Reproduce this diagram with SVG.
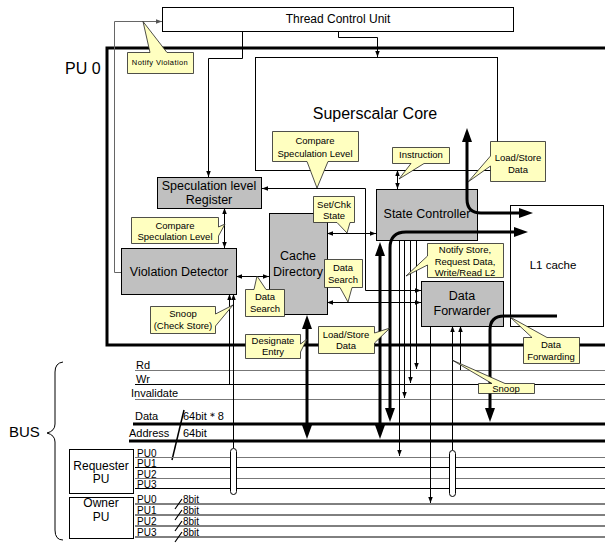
<svg xmlns="http://www.w3.org/2000/svg" width="605" height="543" viewBox="0 0 605 543">
<defs>
<marker id="a" viewBox="0 0 8 6" refX="8" refY="3" markerWidth="6" markerHeight="5" markerUnits="userSpaceOnUse" orient="auto-start-reverse"><path d="M0,0 L8,3 L0,6 z" fill="#000"/></marker>
<marker id="ag" viewBox="0 0 8 6" refX="8" refY="3" markerWidth="6" markerHeight="5" markerUnits="userSpaceOnUse" orient="auto-start-reverse"><path d="M0,0 L8,3 L0,6 z" fill="#555"/></marker>
<marker id="A" viewBox="0 0 14 10" refX="3" refY="5" markerWidth="14" markerHeight="10" markerUnits="userSpaceOnUse" orient="auto-start-reverse"><path d="M0,0 L14,5 L0,10 z" fill="#000"/></marker>
</defs>
<style>
text{font-family:"Liberation Sans",Arial,sans-serif;fill:#000}
.box{fill:#c0c0c0;stroke:#000;stroke-width:1}
.wbox{fill:#fff;stroke:#000;stroke-width:1}
.co{fill:#ffffc0;stroke:#222;stroke-width:0.8}
.ct{font-size:9.5px;text-anchor:middle}
.bt{font-size:12.5px;text-anchor:middle}
.ln{fill:none;stroke:#000;stroke-width:1}
.g{stroke:#666}
.tk{fill:none;stroke:#000;stroke-width:3}
.bl{font-size:11px}
.pl{font-size:10px}
.bus{stroke:#000;stroke-width:1}
.bus2{stroke:#777;stroke-width:1}
.bw{stroke:#000;stroke-width:3}
</style>

<g id="frame">
<path d="M605,48 H107 V345 H605" fill="none" stroke="#000" stroke-width="3"/>
<text x="65" y="74" font-size="16">PU 0</text>
</g>

<g id="tcu"><rect class="wbox" x="162.5" y="7.5" width="351" height="24"/><text x="338" y="23" font-size="12" text-anchor="middle">Thread Control Unit</text></g>
<g id="core"><rect class="wbox" x="255.5" y="57.5" width="242" height="113" stroke="#444"/><text x="375" y="119" font-size="16" text-anchor="middle">Superscalar Core</text></g>
<g id="l1"><rect class="wbox" x="510.5" y="205.5" width="93" height="121"/><text x="553" y="269" font-size="11.5" text-anchor="middle">L1 cache</text></g>
<g id="specreg"><rect class="box" x="157.5" y="177.5" width="104" height="31"/><text class="bt" x="209" y="190" font-size="12">Speculation level</text><text class="bt" x="209" y="204">Register</text></g>
<g id="viol"><rect class="box" x="121.5" y="248.5" width="115" height="46"/><text class="bt" x="179" y="276">Violation Detector</text></g>
<g id="cachedir"><rect class="box" x="269.5" y="213.5" width="58" height="101"/><text class="bt" x="298" y="260">Cache</text><text class="bt" x="298" y="276">Directory</text></g>
<g id="statectl"><rect class="box" x="376.5" y="189.5" width="101" height="51"/><text class="bt" x="427" y="218">State Controller</text></g>
<g id="fwd"><rect class="box" x="421.5" y="281.5" width="82" height="45"/><text class="bt" x="462" y="300">Data</text><text class="bt" x="462" y="315">Forwarder</text></g>
<g id="req"><rect class="wbox" x="69.5" y="449.5" width="64" height="44"/><text x="101" y="470" font-size="12" text-anchor="middle">Requester</text><text x="101" y="483" font-size="12" text-anchor="middle">PU</text></g>
<g id="own"><rect class="wbox" x="69.5" y="497.5" width="64" height="41"/><text x="101" y="507" font-size="12" text-anchor="middle">Owner</text><text x="101" y="521" font-size="12" text-anchor="middle">PU</text></g>

<g id="bus">
<path d="M63,362 Q55,363 55,372 V424 Q55,431 47,433 Q55,435 55,442 V530 Q55,540 63,540" fill="none" stroke="#000"/>
<text x="9" y="437" font-size="15">BUS</text>
<line class="bus2" x1="135" y1="370.5" x2="605" y2="370.5"/><text class="bl" x="136" y="369">Rd</text>
<line class="bus" x1="135" y1="384.5" x2="605" y2="384.5"/><text class="bl" x="136" y="383">Wr</text>
<line class="bus2" x1="135" y1="399.5" x2="605" y2="399.5"/><text class="bl" x="131" y="397">Invalidate</text>
<line class="bw" x1="133" y1="424" x2="605" y2="424"/><text class="bl" x="135" y="420">Data</text><text class="bl" x="183" y="420">64bit＊8</text>
<line class="bw" x1="129" y1="441" x2="605" y2="441"/><text class="bl" x="129" y="437">Address</text><text class="bl" x="183" y="437">64bit</text>
<line x1="184" y1="410" x2="172" y2="460" stroke="#000" stroke-width="1.5"/>
<line class="bus2" x1="135" y1="457.5" x2="605" y2="457.5"/><text class="pl" x="137" y="456.5">PU0</text>
<line class="bus" x1="135" y1="467.5" x2="605" y2="467.5"/><text class="pl" x="137" y="466.5">PU1</text>
<line class="bus2" x1="135" y1="478.5" x2="605" y2="478.5"/><text class="pl" x="137" y="477.5">PU2</text>
<line class="bus" x1="135" y1="488.5" x2="605" y2="488.5"/><text class="pl" x="137" y="487.5">PU3</text>
<line class="bus" x1="135" y1="504" x2="605" y2="504" stroke-width="1.5"/><text class="pl" x="137" y="503">PU0</text><text class="pl" x="183" y="503">8bit</text>
<line class="bus" x1="135" y1="515" x2="605" y2="515" stroke-width="1.5"/><text class="pl" x="137" y="514">PU1</text><text class="pl" x="183" y="514">8bit</text>
<line class="bus" x1="135" y1="526" x2="605" y2="526" stroke-width="1.5"/><text class="pl" x="137" y="525">PU2</text><text class="pl" x="183" y="525">8bit</text>
<line class="bus" x1="135" y1="537" x2="605" y2="537" stroke-width="1.5"/><text class="pl" x="137" y="536">PU3</text><text class="pl" x="183" y="536">8bit</text>
<path d="M182,499 L175,509 M182,510 L175,520 M182,521 L175,531 M182,532 L175,542" stroke="#000" stroke-width="1.2"/>
</g>

<g id="connectors">
<path class="ln" d="M338.5,31 V37.5 H377.5 V57" marker-end="url(#a)"/>
<path class="ln" d="M242.5,31 V58.5 H208.5 V177" marker-end="url(#a)"/>
<path class="ln g" d="M121,272.5 H114.5 V21.5 H162" marker-end="url(#ag)"/>
<path class="ln" d="M262,188.5 H365.5 V290.5 H421" marker-start="url(#a)" marker-end="url(#a)"/>
<path class="ln" d="M224.5,208 V248" marker-start="url(#a)" marker-end="url(#a)"/>
<path class="ln" d="M236,276.5 H269" marker-start="url(#a)" marker-end="url(#a)"/>
<path class="ln" d="M327,233.5 H376" marker-start="url(#a)" marker-end="url(#a)"/>
<path class="ln" d="M327,302.5 H421" marker-start="url(#a)" marker-end="url(#a)"/>
<path class="ln" d="M397.5,170 V189" marker-start="url(#a)" marker-end="url(#a)"/>
<path class="ln" d="M399.5,240 V456" marker-end="url(#a)"/>
<path class="ln" d="M404.5,240 V398" marker-end="url(#a)"/>
<path class="ln" d="M410.5,240 V383" marker-end="url(#a)"/>
<path class="ln" d="M416.5,240 V369" marker-end="url(#a)"/>
<path class="ln" d="M430.5,326 V503" marker-end="url(#a)"/>
<path class="ln" d="M452.5,450 V326" marker-end="url(#a)"/>
<path class="ln" d="M460.5,370 V326" marker-end="url(#a)"/>
<path class="ln" d="M229.5,384 V294" marker-end="url(#a)"/>
<path class="ln" d="M233.5,448 V294" marker-end="url(#a)"/>
<rect x="230.5" y="448.5" width="6" height="46" rx="3" fill="#fff" stroke="#000"/>
<rect x="449.5" y="450.5" width="6" height="46" rx="3" fill="#fff" stroke="#000"/>
<path class="tk" d="M467,139 V199 Q467,213 481,213 H522" marker-start="url(#A)" marker-end="url(#A)"/>
<path class="tk" d="M390,411 V248 Q390,232 406,232 H517" marker-start="url(#A)" marker-end="url(#A)"/>
<path class="tk" d="M380,253 V428" marker-start="url(#A)" marker-end="url(#A)"/>
<path class="tk" d="M307,326 V428" marker-start="url(#A)" marker-end="url(#A)"/>
<path class="tk" d="M557,316 H504 Q490,316 490,330 V411" marker-end="url(#A)"/>
</g>

<g id="callouts">
<path class="co" d="M127.5,52.5 H150 L143,21.5 L167,52.5 H193.5 V73.5 H127.5 Z"/><text x="160" y="65" font-size="7.5" letter-spacing="0.4" text-anchor="middle">Notify Violation</text>
<path class="co" d="M272.5,131.5 H358.5 V161.5 H328 L317,188 L307,161.5 H272.5 Z"/><text class="ct" x="315" y="144">Compare</text><text class="ct" x="315" y="157">Speculation Level</text>
<path class="co" d="M392.5,147.5 H449.5 V163.5 H424 L399,179 L411,163.5 H392.5 Z"/><text class="ct" x="421" y="158">Instruction</text>
<path class="co" d="M490.5,141.5 H545.5 V181.5 H490.5 V166 L468,182 L490.5,156 Z"/><text class="ct" x="518" y="161">Load/Store</text><text class="ct" x="518" y="173">Data</text>
<path class="co" d="M313.5,196.5 H354.5 V222.5 H350 L347,233 L337,222.5 H313.5 Z"/><text class="ct" x="334" y="208">Set/Chk</text><text class="ct" x="334" y="219">State</text>
<path class="co" d="M131.5,217.5 H218.5 V227 L225,224 L218.5,236 V243.5 H131.5 Z"/><text class="ct" x="175" y="229">Compare</text><text class="ct" x="175" y="240">Speculation Level</text>
<path class="co" d="M324.5,259.5 H362.5 V287.5 H352 L348,302 L340,287.5 H324.5 Z"/><text class="ct" x="343" y="271">Data</text><text class="ct" x="343" y="283">Search</text>
<path class="co" d="M150.5,306.5 H215.5 V314 L233,305 L215.5,326 V333.5 H150.5 Z"/><text class="ct" x="183" y="317">Snoop</text><text class="ct" x="183" y="329">(Check Store)</text>
<path class="co" d="M245.5,289.5 H254 L257,276 L266,289.5 H284.5 V316.5 H245.5 Z"/><text class="ct" x="265" y="300">Data</text><text class="ct" x="265" y="312">Search</text>
<path class="co" d="M245.5,334.5 H300.5 V344 L307,339 L300.5,352 V358.5 H245.5 Z"/><text class="ct" x="273" y="344">Designate</text><text class="ct" x="273" y="355">Entry</text>
<path class="co" d="M318.5,326.5 H374.5 V333 L390,328 L374.5,343 V353.5 H318.5 Z"/><text class="ct" x="346" y="338">Load/Store</text><text class="ct" x="346" y="349">Data</text>
<path class="co" d="M427.5,243.5 H503.5 V277.5 H427.5 V265 L406,276 L427.5,256 Z"/><text class="ct" x="465" y="253">Notify Store,</text><text class="ct" x="465" y="265">Request Data,</text><text class="ct" x="465" y="276">Write/Read L2</text>
<path class="co" d="M523.5,337.5 H532 L510,317 L547,337.5 H579.5 V363.5 H523.5 Z"/><text class="ct" x="551" y="348">Data</text><text class="ct" x="551" y="360">Forwarding</text>
<path class="co" d="M478.5,383.5 H492 L452,360 L505,383.5 H534.5 V393.5 H478.5 Z"/><text class="ct" x="506" y="392">Snoop</text>
</g>
</svg>
